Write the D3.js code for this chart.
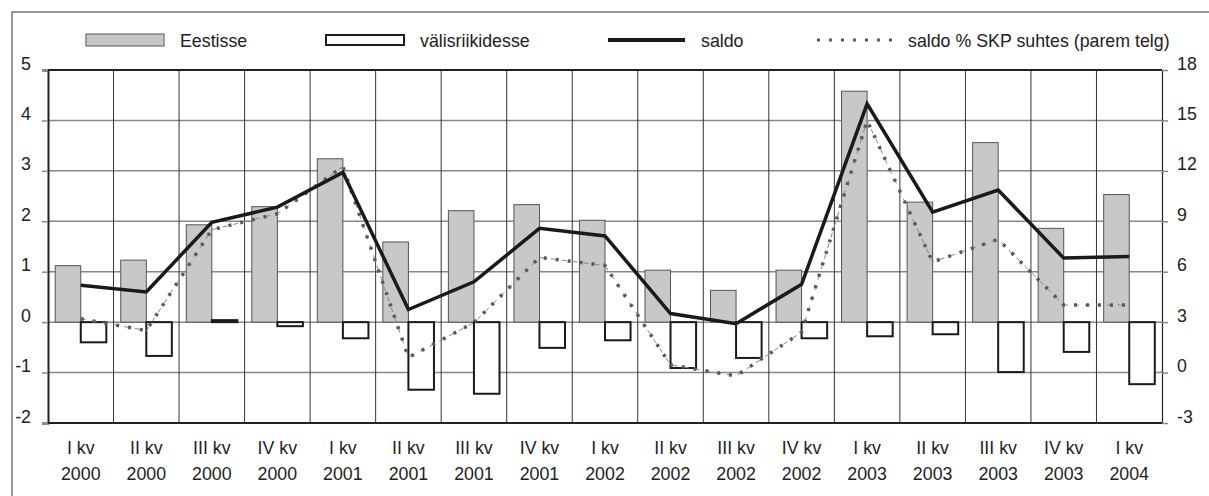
<!DOCTYPE html>
<html>
<head>
<meta charset="utf-8">
<script src="https://cdn.jsdelivr.net/npm/d3@7/dist/d3.min.js"></script>
<style>
html,body{margin:0;padding:0;background:#fff;}
svg text{font-family:"Liberation Sans",Arial,sans-serif;fill:#222;}
</style>
</head>
<body>
<svg id="chart" width="1209" height="496"></svg>
<script>
const quarters = ["I kv","II kv","III kv","IV kv","I kv","II kv","III kv","IV kv","I kv","II kv","III kv","IV kv","I kv","II kv","III kv","IV kv","I kv"];
const years = ["2000","2000","2000","2000","2001","2001","2001","2001","2002","2002","2002","2002","2003","2003","2003","2003","2004"];
const eestisse = [1.12,1.23,1.93,2.29,3.24,1.59,2.21,2.33,2.02,1.03,0.63,1.03,4.58,2.38,3.56,1.86,2.53];
const valisriikidesse = [-0.40,-0.67,0.04,-0.08,-0.32,-1.34,-1.42,-0.51,-0.36,-0.91,-0.71,-0.32,-0.28,-0.24,-0.99,-0.59,-1.23];
const saldo = [0.73,0.60,1.98,2.28,2.97,0.25,0.80,1.86,1.71,0.17,-0.03,0.75,4.33,2.18,2.62,1.27,1.30];
const saldoSKP = [3.2,2.5,8.5,9.45,12.26,0.9,2.97,6.85,6.37,0.46,-0.2,2.4,15.0,6.58,7.93,4.02,4.02];
const leftTicks = [-2,-1,0,1,2,3,4,5];
const rightTicks = [-3,0,3,6,9,12,15,18];
const legendLabels = ["Eestisse","välisriikidesse","saldo","saldo % SKP suhtes (parem telg)"];

const svg = d3.select("#chart");
const L = 48, R = 1162, T = 70, B = 423;
const FS = 17.8;
const idx = d3.range(quarters.length);

const x = d3.scaleBand().domain(idx).range([L, R]).padding(0);
const yL = d3.scaleLinear().domain([-2, 5]).range([B, T]);
const yR = d3.scaleLinear().domain([-3, 18]).range([B, T]);

// outer frame (open at right/bottom, cropped)
svg.append("rect").attr("x", 12).attr("y", 12).attr("width", 1260).attr("height", 560)
  .attr("fill", "none").attr("stroke", "#777").attr("stroke-width", 1.5);

// horizontal grid
svg.append("g").selectAll("line").data(leftTicks).join("line")
  .attr("x1", L).attr("x2", R).attr("y1", d => yL(d)).attr("y2", d => yL(d))
  .attr("stroke", "#888").attr("stroke-width", 1.5);

// vertical grid
svg.append("g").selectAll("line").data(idx.slice(1)).join("line")
  .attr("x1", d => x(d)).attr("x2", d => x(d)).attr("y1", T).attr("y2", B)
  .attr("stroke", "#333").attr("stroke-width", 1);

const fmt = d => String(d);

// left axis
const gL = svg.append("g").attr("transform", `translate(${L},0)`)
  .call(d3.axisLeft(yL).tickValues(leftTicks).tickSize(6).tickPadding(11).tickFormat(fmt));
gL.select(".domain").attr("stroke", "#222").attr("stroke-width", 2);
gL.selectAll(".tick line").attr("stroke", "#888").attr("stroke-width", 1.5);
gL.selectAll(".tick text").attr("font-size", FS).attr("dy", "-0.05em").attr("fill", "#222")
  .style("font-family", '"Liberation Sans",Arial,sans-serif');

// right axis
const gR = svg.append("g").attr("transform", `translate(${R},0)`)
  .call(d3.axisRight(yR).tickValues(rightTicks).tickSize(6).tickPadding(9).tickFormat(fmt));
gR.select(".domain").attr("stroke", "#222").attr("stroke-width", 1.2);
gR.selectAll(".tick line").attr("stroke", "#888").attr("stroke-width", 1.5);
gR.selectAll(".tick text").attr("font-size", FS).attr("dy", "-0.05em").attr("fill", "#222")
  .style("font-family", '"Liberation Sans",Arial,sans-serif');

// top and bottom frame lines
svg.append("line").attr("x1", L).attr("x2", R).attr("y1", T).attr("y2", T).attr("stroke", "#222").attr("stroke-width", 2);
svg.append("line").attr("x1", L).attr("x2", R).attr("y1", B).attr("y2", B).attr("stroke", "#222").attr("stroke-width", 2.2);

// bars
const bw = x.bandwidth() * 0.39;
svg.append("g").selectAll("rect").data(idx).join("rect")
  .attr("x", d => x(d) + x.bandwidth()/2 - bw)
  .attr("width", bw)
  .attr("y", d => yL(Math.max(0, eestisse[d])))
  .attr("height", d => Math.abs(yL(eestisse[d]) - yL(0)))
  .attr("fill", "#c8c8c8").attr("stroke", "#555").attr("stroke-width", 1);

svg.append("g").selectAll("rect").data(idx).join("rect")
  .attr("x", d => x(d) + x.bandwidth()/2)
  .attr("width", bw)
  .attr("y", d => yL(Math.max(0, valisriikidesse[d])))
  .attr("height", d => Math.abs(yL(valisriikidesse[d]) - yL(0)))
  .attr("fill", "#fff").attr("stroke", "#1a1a1a").attr("stroke-width", 2);

const cx = d => x(d) + x.bandwidth()/2;

// saldo % SKP line (right axis): thin dashed + thick dotted
const lineR = d3.line().x(cx).y(d => yR(saldoSKP[d]));
svg.append("path").datum(idx).attr("d", lineR)
  .attr("fill", "none").attr("stroke", "#888").attr("stroke-width", 1).attr("stroke-dasharray", "5,6");
svg.append("path").datum(idx).attr("d", lineR)
  .attr("fill", "none").attr("stroke", "#5a5a5a").attr("stroke-width", 3.5).attr("stroke-dasharray", "3,9");

// saldo line
const lineL = d3.line().x(cx).y(d => yL(saldo[d]));
svg.append("path").datum(idx).attr("d", lineL)
  .attr("fill", "none").attr("stroke", "#1a1a1a").attr("stroke-width", 3.5).attr("stroke-linejoin", "miter");

// x labels
const xl = svg.append("g").selectAll("text").data(idx).join("text")
  .attr("x", cx).attr("text-anchor", "middle").attr("font-size", FS);
xl.append("tspan").attr("x", cx).attr("y", 454).text(d => quarters[d]);
xl.append("tspan").attr("x", cx).attr("y", 480).text(d => years[d]);

// legend
const lg = svg.append("g");
const legX = [86, 326, 608, 817];
const legTextX = [180, 420, 701, 908];
lg.append("rect").attr("x", legX[0]).attr("y", 34).attr("width", 78).attr("height", 12)
  .attr("fill", "#c8c8c8").attr("stroke", "#555").attr("stroke-width", 1);
lg.append("rect").attr("x", legX[1]).attr("y", 35).attr("width", 78).attr("height", 10)
  .attr("fill", "#fff").attr("stroke", "#1a1a1a").attr("stroke-width", 2);
lg.append("line").attr("x1", legX[2]).attr("x2", legX[2] + 77).attr("y1", 40).attr("y2", 40)
  .attr("stroke", "#1a1a1a").attr("stroke-width", 4);
lg.append("line").attr("x1", legX[3]).attr("x2", legX[3] + 75).attr("y1", 40).attr("y2", 40)
  .attr("stroke", "#5a5a5a").attr("stroke-width", 3).attr("stroke-dasharray", "3,9");
lg.selectAll("text").data(legendLabels).join("text")
  .attr("x", (d, i) => legTextX[i]).attr("y", 46.5).attr("font-size", FS).text(d => d);
</script>
</body>
</html>
